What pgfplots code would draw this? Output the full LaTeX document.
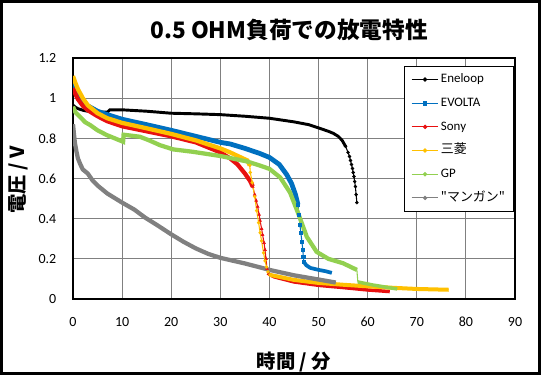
\documentclass[border=0pt]{standalone}
\usepackage{fontspec}
\setmainfont{Carlito}
\newfontfamily\cjk{Noto Sans CJK JP}
\usepackage{pgfplots}
\usepackage{pgfplotstable}
\pgfplotsset{compat=1.18}

\definecolor{cblue}{HTML}{0070C0}
\definecolor{cred}{HTML}{E81010}
\definecolor{corange}{HTML}{FFC000}
\definecolor{cgreen}{HTML}{92D050}
\definecolor{cgray}{HTML}{808080}

\pgfplotstableread{
t v
0 0.965
0.5 0.955
1 0.948
2 0.94
3 0.935
5 0.932
7 0.93
7.5 0.942
10 0.942
15 0.935
20 0.925
25 0.922
30 0.918
35 0.91
40 0.90
45 0.882
48 0.868
50 0.852
52 0.835
53 0.825
54 0.81
54.8 0.79
55.5 0.76
56 0.73
56.3 0.71
56.5 0.69
56.7 0.67
56.9 0.65
57.05 0.63
57.2 0.61
57.35 0.585
57.5 0.56
57.65 0.52
57.8 0.48
}\eneloop

\pgfplotstableread{
t v
0 1.08
0.5 1.045
1 1.015
2 0.985
3 0.962
5 0.935
7 0.918
10 0.895
15 0.868
20 0.84
25 0.81
30 0.78
32 0.772
35 0.75
38 0.725
40 0.705
42 0.67
43.5 0.62
44.5 0.575
45.3 0.52
45.8 0.47
46.0 0.42
46.2 0.37
46.4 0.33
46.6 0.285
46.8 0.245
46.9 0.21
47 0.185
47.5 0.168
48.3 0.155
50 0.145
51.5 0.138
52.7 0.13
}\evolta

\pgfplotstableread{
t v
0 1.05
0.5 1.02
1 0.995
2 0.962
3 0.94
5 0.91
7 0.885
10 0.86
15 0.835
20 0.81
25 0.78
30 0.73
32 0.70
33.5 0.67
35 0.625
36 0.59
36.6 0.56
37 0.52
37.3 0.49
37.6 0.46
37.9 0.42
38.1 0.39
38.4 0.35
38.6 0.32
38.9 0.28
39.1 0.245
39.3 0.2
39.5 0.15
39.8 0.125
41 0.11
45 0.085
50 0.068
55 0.057
60 0.045
64.5 0.037
}\sony

\pgfplotstableread{
t v
0 1.11
0.5 1.075
1 1.045
2 1.0
3 0.965
5 0.925
7 0.9
10 0.877
15 0.85
20 0.822
25 0.79
30 0.75
32 0.73
33.3 0.715
35.5 0.69
36 0.665
36.1 0.63
36.5 0.58
37 0.51
37.4 0.44
37.8 0.38
38.1 0.33
38.4 0.29
38.8 0.23
39.1 0.19
39.4 0.16
39.7 0.135
40.1 0.12
45 0.095
50 0.08
55 0.071
60 0.063
65 0.056
70 0.05
76.5 0.046
}\mitsu

\pgfplotstableread{
t v
0 0.957
0.5 0.93
1.4 0.907
2.5 0.88
3.5 0.866
5 0.84
6.9 0.816
9 0.795
10.2 0.783
10.3 0.818
13.6 0.808
15.5 0.79
17.7 0.766
20.4 0.745
24.4 0.733
30 0.712
35.4 0.685
38 0.665
40 0.648
42.2 0.605
44.2 0.53
45.8 0.43
47.6 0.31
49.6 0.235
52 0.2
55 0.178
57.8 0.145
58 0.085
61 0.07
66 0.05
}\gp

\pgfplotstableread{
t v
0 0.87
0.2 0.82
0.4 0.775
0.7 0.735
1 0.70
1.5 0.67
2 0.645
3 0.625
4 0.59
5 0.565
7 0.525
10 0.48
12.5 0.445
14.7 0.405
17 0.37
20 0.322
22.5 0.285
25 0.252
27.5 0.225
30 0.205
35 0.177
38 0.158
40 0.145
45 0.118
50 0.097
53.5 0.082
}\mangan

\pgfplotsset{
  legcirc/.style={legend image code/.code={
    \draw[line width=0.9pt] (0pt,0pt) -- (20pt,0pt);
    \fill (10pt,0pt) circle (1.2pt);}},
  legsq/.style={legend image code/.code={
    \draw[line width=0.9pt] (0pt,0pt) -- (20pt,0pt);
    \fill (8.6pt,-1.4pt) rectangle (11.4pt,1.4pt);}},
}

\begin{document}
\begin{tikzpicture}[x=1pt,y=1pt]
\useasboundingbox (-54.75,-57) rectangle (351,224.25);
\begin{axis}[
  at={(0,0)}, anchor=south west,
  scale only axis, width=331.5pt, height=180.75pt,
  xmin=0, xmax=90, ymin=0, ymax=1.2,
  xtick={0,10,20,30,40,50,60,70,80,90},
  ytick={0,0.2,0.4,0.6,0.8,1,1.2},
  grid=major,
  grid style={color=black!50, line width=0.75pt},
  axis line style={black, line width=1.1pt},
  major tick length=0pt,
  tick label style={font=\fontsize{10.5}{12}\selectfont},
  /pgf/number format/assume math mode=true,
  xticklabel style={yshift=-10pt},
  yticklabel style={xshift=-9pt},
  legend cell align=left,
  legend style={at={(0.998,0.968)}, anchor=north east,
    draw=black, line width=0.75pt,
    font=\fontsize{9.7}{11}\selectfont,
    inner xsep=5pt, inner ysep=4pt,
    row sep=5.75pt,
    nodes={inner sep=1.5pt, text height=7pt, text depth=2pt}},
]
% Eneloop
\addplot[black, line width=0.8pt, legcirc] table {\eneloop};
\addlegendentry{Eneloop}
\addplot[black, line width=2.2pt, restrict x to domain=0:55.5, forget plot] table {\eneloop};
\addplot[black, only marks, mark=*, mark size=1.1pt, restrict x to domain=55.4:58, forget plot] table {\eneloop};
% EVOLTA
\addplot[cblue, line width=0.8pt, legsq] table {\evolta};
\addlegendentry{EVOLTA}
\addplot[cblue, line width=3.6pt, restrict x to domain=0:45.8, forget plot] table {\evolta};
\addplot[cblue, line width=2.8pt, restrict x to domain=47:53, forget plot] table {\evolta};
\addplot[cblue, only marks, mark=square*, mark size=1.3pt, restrict x to domain=45.7:47.1, forget plot] table {\evolta};
% Sony
\addplot[cred, line width=0.8pt, legcirc] table {\sony};
\addlegendentry{Sony}
\addplot[cred, line width=3.2pt, restrict x to domain=0:36.6, forget plot] table {\sony};
\addplot[cred, line width=2.6pt, restrict x to domain=39.8:65, forget plot] table {\sony};
\addplot[cred, only marks, mark=triangle*, mark size=1.2pt, restrict x to domain=36.5:39.9, forget plot] table {\sony};
% Mitsubishi
\addplot[corange, line width=0.8pt, legcirc] table {\mitsu};
\addlegendentry{{\cjk 三菱}}
\addplot[corange, line width=3.2pt, restrict x to domain=0:36, forget plot] table {\mitsu};
\addplot[corange, line width=3pt, restrict x to domain=40:77, forget plot] table {\mitsu};
\addplot[corange, only marks, mark=*, mark size=1.1pt, restrict x to domain=35.9:40.2, forget plot] table {\mitsu};
% GP
\addplot[cgreen, line width=0.8pt, legcirc] table {\gp};
\addlegendentry{GP}
\addplot[cgreen, line width=3.2pt, restrict x to domain=0:57.9, forget plot] table {\gp};
\addplot[cgreen, line width=2.6pt, restrict x to domain=58:67, forget plot] table {\gp};
% Manganese
\addplot[cgray, line width=0.8pt, legcirc] table {\mangan};
\addlegendentry{{\cjk "マンガン"}}
\addplot[cgray, line width=3.2pt, forget plot] table {\mangan};
\end{axis}
\draw[line width=2.25pt] (-53.6,-55.9) rectangle (349.9,223.1);
\node[font=\cjk\bfseries\fontsize{17}{20}\selectfont] at (162,201.5) {0.5 OHM負荷での放電特性};
\node[rotate=90, font=\cjk\bfseries\fontsize{14.5}{17}\selectfont] at (-41.25,89.25) {電圧 / V};
\node[font=\cjk\bfseries\fontsize{14.5}{17}\selectfont] at (165.75,-47) {時間 / 分};
\end{tikzpicture}
\end{document}
